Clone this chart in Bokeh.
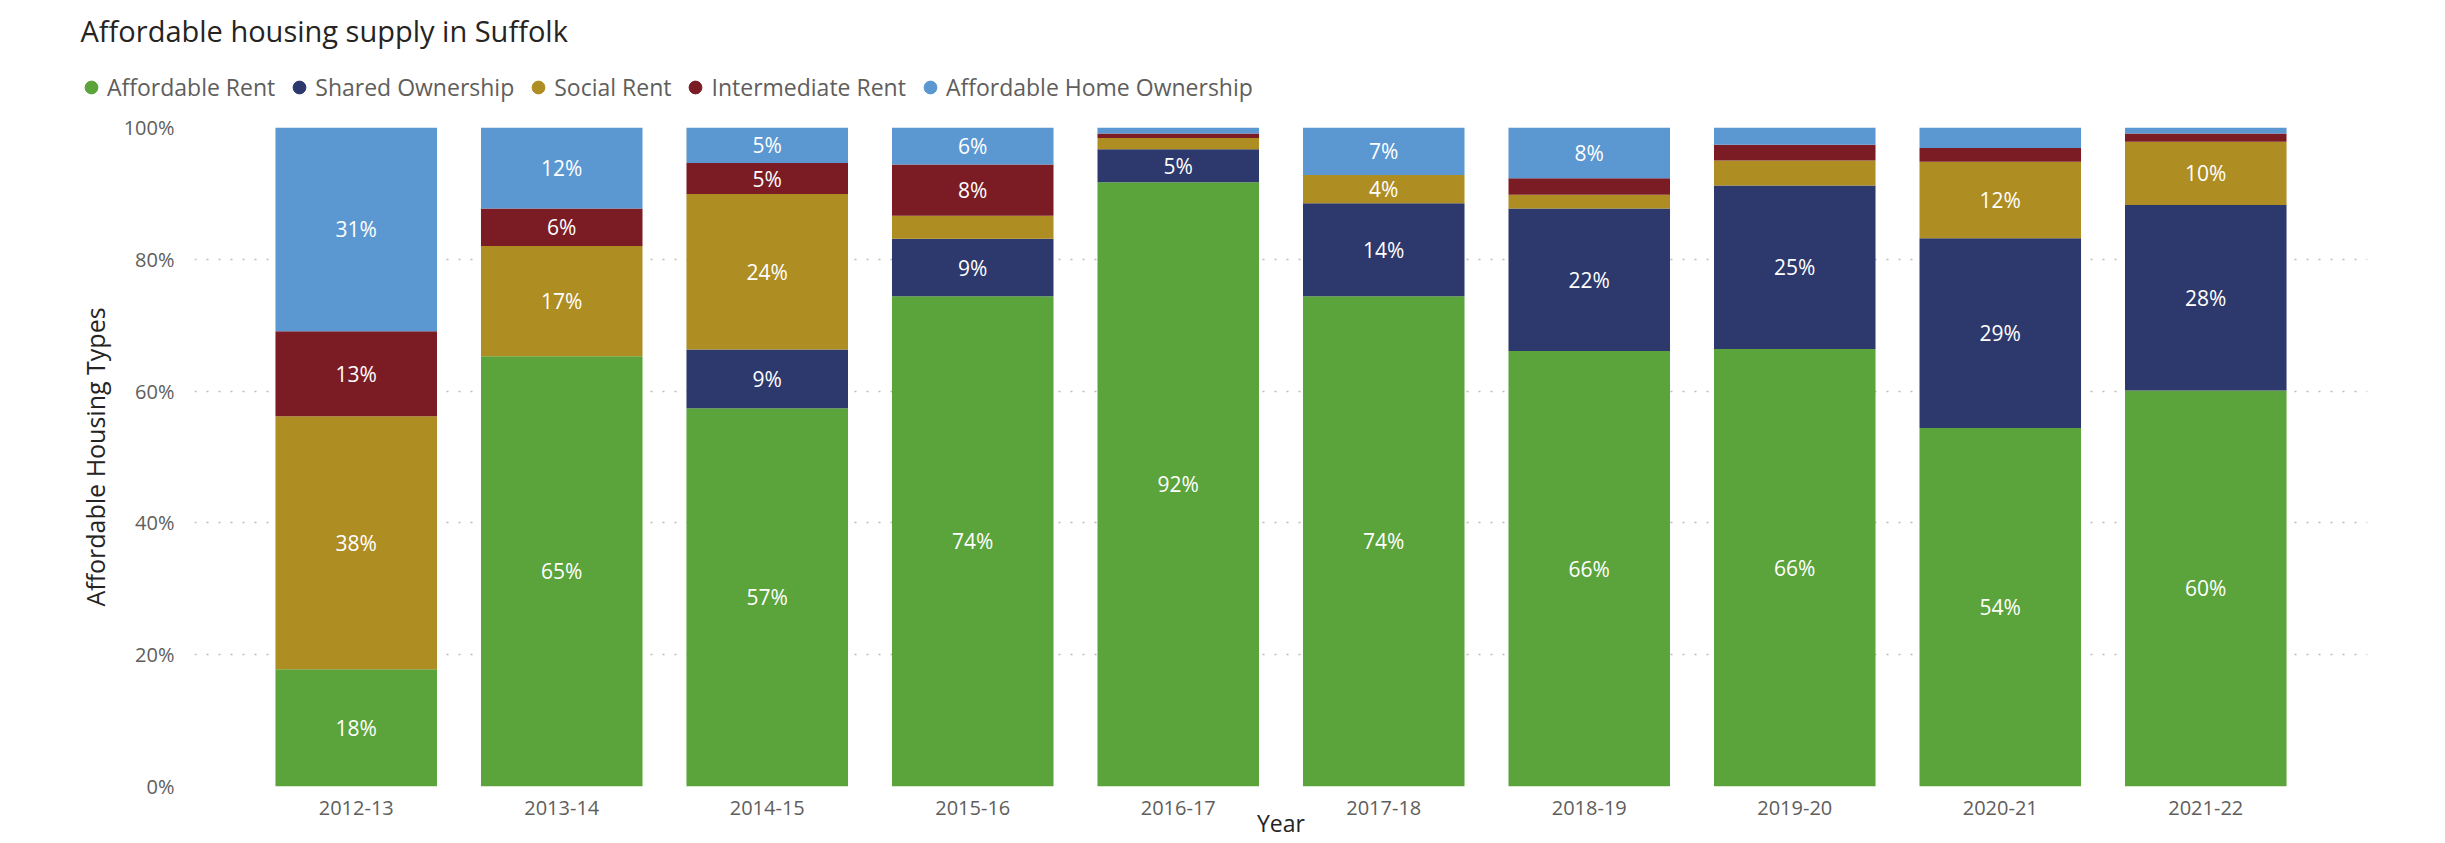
from bokeh.plotting import figure
from bokeh.layouts import column
from bokeh.models import (ColumnDataSource, FactorRange, Range1d, Legend, LegendItem,
                          FixedTicker, Label)
from bokeh.embed import file_html
from bokeh.resources import INLINE
from bokeh.core.properties import value

# ---------------- data ----------------
years = ["2012-13", "2013-14", "2014-15", "2015-16", "2016-17",
         "2017-18", "2018-19", "2019-20", "2020-21", "2021-22"]
series_names = ["Affordable Rent", "Shared Ownership", "Social Rent",
                "Intermediate Rent", "Affordable Home Ownership"]
affordable_rent = [17.8, 65.3, 57.4, 74.4, 91.7, 74.4, 66.1, 66.4, 54.4, 60.1]
shared_ownership = [0.0, 0.0, 8.9, 8.7, 5.0, 14.1, 21.6, 24.8, 28.8, 28.15]
social_rent = [38.4, 16.7, 23.6, 3.5, 1.7, 4.3, 2.1, 3.8, 11.6, 9.6]
intermediate_rent = [12.9, 5.7, 4.7, 7.8, 0.7, 0.0, 2.5, 2.4, 2.1, 1.25]
affordable_home_ownership = [30.9, 12.3, 5.4, 5.6, 0.9, 7.2, 7.7, 2.6, 3.1, 0.9]
colors = ["#5BA33B", "#2D386C", "#AE8D22", "#7B1C25", "#5B97D1"]
y_ticks = [0, 0.2, 0.4, 0.6, 0.8, 1.0]
y_tick_labels = ["0%", "20%", "40%", "60%", "80%", "100%"]
title_text = "Affordable housing supply in Suffolk"

FONT = "Open Sans"
W = 2440
HEAD_H = 112
series = [affordable_rent, shared_ownership, social_rent,
          intermediate_rent, affordable_home_ownership]
keys = ["s%d" % i for i in range(len(series))]

data = {"year": years}
for k, s in zip(keys, series):
    data[k] = [v / 100.0 for v in s]
src = ColumnDataSource(data)

# data labels (segment centres)
lx, ly, lt = [], [], []
for i, yr in enumerate(years):
    base = 0.0
    for s in series:
        v = s[i]
        if v >= 4:
            lx.append(yr)
            ly.append((base + v / 2.0) / 100.0)
            lt.append("%d%%" % int(v + 0.5))
        base += v
lab_src = ColumnDataSource(dict(x=lx, y=ly, t=lt))

# ---------------- header (title + legend) ----------------
head = figure(width=W, height=HEAD_H, x_range=Range1d(0, W), y_range=Range1d(HEAD_H, 0),
              x_axis_type=None, y_axis_type=None, output_backend="svg",
              toolbar_location=None, min_border=0)
head.frame_align = False
head.outline_line_color = None
head.grid.visible = False
head.background_fill_color = "white"
head.border_fill_color = "white"
head.add_layout(Label(x=80, y=30, text=title_text, text_font=FONT,
                      text_font_size="29px", text_color="#252423",
                      text_align="left", text_baseline="middle"))
items = []
for name, c in zip(series_names, colors):
    # a single off-screen point so that the legend can draw its circle marker
    r = head.scatter(x=[-500], y=[-500], marker="circle", size=13,
                     fill_color=c, line_color=c)
    items.append(LegendItem(label=name, renderers=[r]))
legend = Legend(items=items, orientation="horizontal", location=(75, 9),
                glyph_width=32, glyph_height=32, label_standoff=0, spacing=8,
                padding=0, margin=0, border_line_color=None,
                background_fill_alpha=0,
                label_text_font=FONT, label_text_font_size="23px",
                label_text_color="#605E5C")
head.add_layout(legend)

# ---------------- main chart ----------------
p = figure(width=W, height=842 - HEAD_H,
           x_range=FactorRange(factors=years, range_padding=0.287,
                               range_padding_units="absolute"),
           y_range=Range1d(0, 1),
           output_backend="svg", toolbar_location=None,
           min_border_left=194, min_border_right=73,
           min_border_top=15, min_border_bottom=56)
p.frame_align = False
p.outline_line_color = None
p.background_fill_color = "white"
p.border_fill_color = "white"

p.vbar_stack(keys, x="year", width=0.786, source=src,
             fill_color=colors, line_color=None)

p.text(x="x", y="y", text="t", source=lab_src, text_color="#FFFFFF",
       text_align="center", text_baseline="middle",
       text_font=value(FONT), text_font_size="21px")

p.xgrid.visible = False
p.ygrid.grid_line_color = "#BDBBB8"
p.ygrid.grid_line_dash = "2 10"
p.ygrid.grid_line_width = 1.5
p.yaxis.ticker = FixedTicker(ticks=y_ticks)
p.yaxis.major_label_overrides = dict(zip(y_ticks, y_tick_labels))
for ax in (p.xaxis[0], p.yaxis[0]):
    ax.axis_line_color = None
    ax.major_tick_line_color = None
    ax.minor_tick_line_color = None
    ax.major_tick_out = 0
    ax.major_tick_in = 0
    ax.major_label_text_font = FONT
    ax.major_label_text_font_size = "20px"
    ax.major_label_text_color = "#605E5C"
    ax.axis_label_text_font = FONT
    ax.axis_label_text_font_style = "normal"
    ax.axis_label_text_color = "#252423"
p.yaxis.major_label_standoff = 20
p.xaxis.major_label_standoff = 14
p.yaxis.axis_label = "Affordable Housing Types"
p.yaxis.axis_label_text_font_size = "25px"
p.yaxis.axis_label_standoff = 9
p.xaxis.axis_label = "Year"
p.xaxis.axis_label_text_font_size = "23px"
p.xaxis.axis_label_standoff = -11

layout = column(head, p, spacing=0)
open("out.html", "w").write(file_html(layout, INLINE))
